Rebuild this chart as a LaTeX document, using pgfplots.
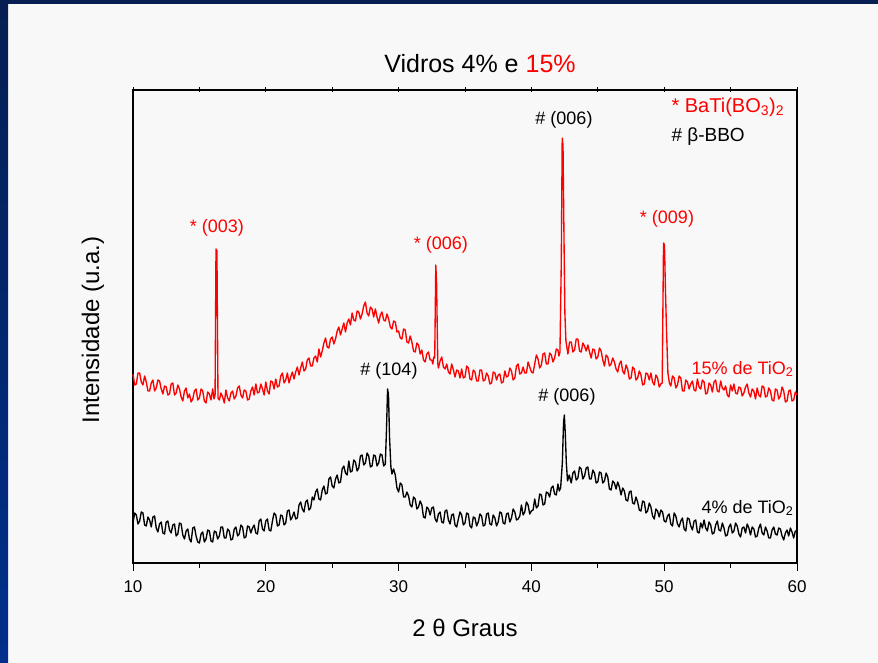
\documentclass[border=0pt]{standalone}
\usepackage{pgfplots}
\pgfplotsset{compat=1.18}
\usepackage{fontspec}
\setmainfont{Liberation Sans}
\definecolor{bg}{HTML}{F8F8F8}
\definecolor{navyTop}{HTML}{061E52}
\definecolor{navyBot}{HTML}{00308C}
\definecolor{xred}{HTML}{FF0000}
\begin{document}
\begin{tikzpicture}[x=1pt,y=1pt]
\fill[bg] (0,0) rectangle (878,663);
\path[use as bounding box] (0,0) rectangle (878,663);
\shade[top color=navyTop, bottom color=navyBot] (0,0) rectangle (8,663);
\fill[navyTop] (0,659) rectangle (878,663);
\pgfplotsset{base/.style={
  at={(133pt,100pt)}, anchor=south west,
  scale only axis, width=664pt, height=473pt,
  xmin=10, xmax=60, ymin=0, ymax=473,
  axis line style={line width=1.3pt},
  every tick/.style={black, line width=1pt},
  clip=false}}
% overlay axis: top ticks and y ticks
\begin{axis}[base,
  xtick={10,15,...,60}, xticklabels={}, xtick pos=top,
  ytick=\empty, minor ytick={12,24,...,468}, ytick pos=both,
  tick align=center, major tick length=5pt, minor tick length=5pt]
\end{axis}
\begin{axis}[base,
  xtick={10,20,...,60}, minor xtick={15,25,...,55},
  xtick pos=bottom, ytick=\empty,
  tick align=outside,
  major tick length=8pt, minor tick length=5pt,
  /pgf/number format/assume math mode=true,
  ticklabel style={font=\fontsize{17}{19}\selectfont},
  xticklabel style={yshift=-6pt},
]
\addplot[xred, line width=1.35pt, line join=round] coordinates {
(10.00,189)(10.125,178)(10.25,179)(10.375,190)(10.50,190)(10.625,181)(10.75,178)(10.875,187)
(11.00,181)(11.125,172)(11.25,172)(11.375,180)(11.50,183)(11.625,172)(11.75,175)(11.875,183)
(12.00,182)(12.125,174)(12.25,169)(12.375,177)(12.50,176)(12.625,168)(12.75,169)(12.875,179)
(13.00,180)(13.125,168)(13.25,170)(13.375,178)(13.50,174)(13.625,166)(13.75,162)(13.875,172)
(14.00,175)(14.125,165)(14.25,169)(14.375,161)(14.50,164)(14.625,172)(14.75,174)(14.875,163)
(15.00,165)(15.125,174)(15.25,172)(15.375,162)(15.50,160)(15.625,171)(15.75,169)(15.875,163)
(16.00,174)(16.10,164)(16.18,168)(16.25,314)(16.32,312)(16.40,165)(16.50,163)(16.625,170)
(16.75,166)(16.875,160)(17.00,173)(17.125,165)(17.25,162)(17.375,170)(17.50,172)(17.625,164)
(17.75,167)(17.875,175)(18.00,177)(18.125,168)(18.25,165)(18.375,173)(18.50,172)(18.625,163)
(18.75,164)(18.875,172)(19.00,176)(19.125,168)(19.25,179)(19.375,170)(19.50,171)(19.625,179)
(19.75,174)(19.875,168)(20.00,181)(20.125,172)(20.25,169)(20.375,182)(20.50,181)(20.625,174)
(20.75,184)(20.875,176)(21.00,177)(21.125,187)(21.25,190)(21.375,180)(21.50,183)(21.625,190)
(21.75,180)(21.875,186)(22.00,191)(22.125,184)(22.25,191)(22.375,196)(22.50,188)(22.625,195)
(22.75,201)(22.875,192)(23.00,194)(23.125,203)(23.25,205)(23.375,197)(23.50,197)(23.625,205)
(23.75,207)(23.875,201)(24.00,214)(24.125,206)(24.25,212)(24.375,220)(24.50,225)(24.625,216)
(24.75,215)(24.875,224)(25.00,226)(25.125,219)(25.25,224)(25.375,232)(25.50,236)(25.625,228)
(25.75,234)(25.875,240)(26.00,231)(26.125,240)(26.25,244)(26.375,238)(26.50,250)(26.625,243)
(26.75,242)(26.875,252)(27.00,251)(27.125,244)(27.25,249)(27.375,257)(27.50,261)(27.625,250)
(27.75,247)(27.875,256)(28.00,254)(28.125,246)(28.25,254)(28.375,246)(28.50,240)(28.625,248)
(28.75,251)(28.875,243)(29.00,242)(29.125,249)(29.25,244)(29.375,236)(29.50,234)(29.625,242)
(29.75,241)(29.875,231)(30.00,232)(30.125,225)(30.25,224)(30.375,234)(30.50,233)(30.625,221)
(30.75,220)(30.875,227)(31.00,221)(31.125,212)(31.25,211)(31.375,220)(31.50,218)(31.625,209)
(31.75,213)(31.875,203)(32.00,201)(32.125,209)(32.25,211)(32.375,203)(32.50,203)(32.575,199)
(32.65,206)(32.72,205)(32.80,298)(32.86,280)(32.95,200)(33.00,195)(33.125,202)(33.25,206)
(33.375,196)(33.50,194)(33.625,199)(33.75,191)(33.875,189)(34.00,199)(34.125,193)(34.25,186)
(34.375,193)(34.50,192)(34.625,185)(34.75,194)(34.875,185)(35.00,186)(35.125,197)(35.25,195)
(35.375,184)(35.50,183)(35.625,193)(35.75,191)(35.875,182)(36.00,182)(36.125,193)(36.25,193)
(36.375,182)(36.50,183)(36.625,190)(36.75,187)(36.875,179)(37.00,180)(37.125,191)(37.25,190)
(37.375,183)(37.50,188)(37.625,189)(37.75,180)(37.875,181)(38.00,192)(38.125,186)(38.25,187)
(38.375,195)(38.50,192)(38.625,183)(38.75,185)(38.875,197)(39.00,199)(39.125,189)(39.25,190)
(39.375,196)(39.50,190)(39.625,190)(39.75,201)(39.875,196)(40.00,191)(40.125,190)(40.25,199)
(40.375,208)(40.50,204)(40.625,195)(40.75,198)(40.875,209)(41.00,210)(41.125,199)(41.25,199)
(41.375,210)(41.50,208)(41.625,201)(41.75,205)(41.875,214)(42.00,213)(42.075,207)(42.15,211)
(42.25,300)(42.32,425)(42.38,418)(42.45,330)(42.52,250)(42.60,222)(42.75,209)(42.875,221)
(43.00,221)(43.125,211)(43.25,213)(43.375,224)(43.50,224)(43.625,212)(43.75,211)(43.875,220)
(44.00,217)(44.125,212)(44.25,218)(44.375,211)(44.50,205)(44.625,214)(44.75,213)(44.875,204)
(45.00,206)(45.125,215)(45.25,212)(45.375,203)(45.50,197)(45.625,208)(45.75,206)(45.875,197)
(46.00,199)(46.125,205)(46.25,201)(46.375,194)(46.50,191)(46.625,199)(46.75,202)(46.875,192)
(47.00,189)(47.125,198)(47.25,194)(47.375,184)(47.50,185)(47.625,196)(47.75,194)(47.875,183)
(48.00,185)(48.125,192)(48.25,188)(48.375,178)(48.50,179)(48.625,190)(48.75,189)(48.875,183)
(49.00,190)(49.125,181)(49.25,178)(49.375,188)(49.50,185)(49.625,176)(49.75,179)(49.85,180)
(49.95,320)(50.02,318)(50.10,270)(50.18,230)(50.28,190)(50.39,180)(50.50,177)(50.625,187)
(50.75,185)(50.875,175)(51.00,178)(51.125,187)(51.25,185)(51.375,172)(51.50,172)(51.625,183)
(51.75,181)(51.875,174)(52.00,179)(52.125,182)(52.25,173)(52.375,172)(52.50,184)(52.625,176)
(52.75,174)(52.875,183)(53.00,181)(53.125,169)(53.25,170)(53.375,180)(53.50,178)(53.625,171)
(53.75,181)(53.875,183)(54.00,172)(54.125,171)(54.25,182)(54.375,175)(54.50,173)(54.625,177)
(54.75,168)(54.875,166)(55.00,178)(55.125,172)(55.25,179)(55.375,170)(55.50,169)(55.625,176)
(55.75,175)(55.875,167)(56.00,170)(56.125,176)(56.25,179)(56.375,170)(56.50,166)(56.625,174)
(56.75,172)(56.875,164)(57.00,175)(57.125,168)(57.25,166)(57.375,177)(57.50,176)(57.625,166)
(57.75,167)(57.875,175)(58.00,172)(58.125,163)(58.25,162)(58.375,174)(58.50,173)(58.625,164)
(58.75,167)(58.875,176)(59.00,172)(59.125,161)(59.25,162)(59.375,172)(59.50,173)(59.625,162)
(59.75,163)(59.875,171)(60.00,168)
};
\addplot[black, line width=1.35pt, line join=round] coordinates {
(10.00,40)(10.125,50)(10.25,48)(10.375,39)(10.50,42)(10.625,51)(10.75,50)(10.875,38)
(11.00,37)(11.125,46)(11.25,43)(11.375,36)(11.50,46)(11.625,47)(11.75,35)(11.875,31)
(12.00,39)(12.125,41)(12.25,30)(12.375,29)(12.50,41)(12.625,42)(12.75,33)(12.875,30)
(13.00,38)(13.125,39)(13.25,27)(13.375,29)(13.50,40)(13.625,39)(13.75,28)(13.875,24)
(14.00,32)(14.125,34)(14.25,24)(14.375,21)(14.50,35)(14.625,36)(14.75,27)(14.875,21)
(15.00,20)(15.125,29)(15.25,31)(15.375,21)(15.50,24)(15.625,33)(15.75,32)(15.875,22)
(16.00,21)(16.125,32)(16.25,31)(16.375,24)(16.50,27)(16.625,36)(16.75,36)(16.875,25)
(17.00,25)(17.125,34)(17.25,32)(17.375,23)(17.50,24)(17.625,34)(17.75,36)(17.875,27)
(18.00,29)(18.125,38)(18.25,36)(18.375,25)(18.50,26)(18.625,37)(18.75,36)(18.875,30)
(19.00,35)(19.125,38)(19.25,30)(19.375,29)(19.50,42)(19.625,44)(19.75,34)(19.875,32)
(20.00,42)(20.125,44)(20.25,33)(20.375,32)(20.50,42)(20.625,50)(20.75,48)(20.875,37)
(21.00,38)(21.125,48)(21.25,47)(21.375,38)(21.50,40)(21.625,52)(21.75,53)(21.875,43)
(22.00,46)(22.125,51)(22.25,44)(22.375,45)(22.50,58)(22.625,61)(22.75,54)(22.875,51)
(23.00,61)(23.125,63)(23.25,53)(23.375,55)(23.50,66)(23.625,63)(23.75,71)(23.875,74)
(24.00,64)(24.125,63)(24.25,73)(24.375,77)(24.50,69)(24.625,70)(24.75,84)(24.875,86)
(25.00,77)(25.125,75)(25.25,84)(25.375,88)(25.50,80)(25.625,81)(25.75,94)(25.875,97)
(26.00,90)(26.125,88)(26.25,102)(26.375,91)(26.50,92)(26.625,103)(26.75,101)(26.875,92)
(27.00,95)(27.125,107)(27.25,108)(27.375,98)(27.50,100)(27.625,110)(27.75,107)(27.875,96)
(28.00,97)(28.125,108)(28.25,107)(28.375,97)(28.50,100)(28.625,109)(28.75,108)(28.875,97)
(29.00,99)(29.08,130)(29.17,174)(29.24,168)(29.32,125)(29.42,96)(29.50,89)(29.625,94)
(29.75,88)(29.875,75)(30.00,71)(30.125,80)(30.25,78)(30.375,66)(30.50,66)(30.625,71)
(30.75,67)(30.875,58)(31.00,56)(31.125,66)(31.25,64)(31.375,54)(31.50,56)(31.625,62)
(31.75,58)(31.875,46)(32.00,45)(32.125,56)(32.25,54)(32.375,48)(32.50,55)(32.625,56)
(32.75,44)(32.875,41)(33.00,49)(33.125,51)(33.25,41)(33.375,40)(33.50,52)(33.625,53)
(33.75,43)(33.875,39)(34.00,48)(34.125,49)(34.25,38)(34.375,36)(34.50,44)(34.625,51)
(34.75,48)(34.875,38)(35.00,40)(35.125,50)(35.25,49)(35.375,37)(35.50,35)(35.625,46)
(35.75,45)(35.875,37)(36.00,41)(36.125,49)(36.25,47)(36.375,37)(36.50,38)(36.625,49)
(36.75,50)(36.875,39)(37.00,38)(37.125,48)(37.25,45)(37.375,37)(37.50,41)(37.625,51)
(37.75,50)(37.875,40)(38.00,39)(38.125,49)(38.25,50)(38.375,41)(38.50,45)(38.625,54)
(38.75,51)(38.875,43)(39.00,44)(39.125,47)(39.25,58)(39.375,48)(39.50,51)(39.625,61)
(39.75,58)(39.875,49)(40.00,52)(40.125,53)(40.25,64)(40.375,55)(40.50,57)(40.625,69)
(40.75,68)(40.875,58)(41.00,59)(41.125,71)(41.25,70)(41.375,66)(41.50,75)(41.625,77)
(41.75,69)(41.875,68)(42.00,79)(42.10,72)(42.20,75)(42.33,100)(42.42,140)(42.48,148)
(42.55,130)(42.63,100)(42.72,82)(42.85,88)(43.00,80)(43.125,90)(43.25,92)(43.375,83)
(43.50,85)(43.625,96)(43.75,94)(43.875,84)(44.00,87)(44.125,95)(44.25,96)(44.375,84)
(44.50,84)(44.625,93)(44.75,90)(44.875,80)(45.00,81)(45.125,91)(45.25,90)(45.375,80)
(45.50,82)(45.625,90)(45.75,86)(45.875,74)(46.00,73)(46.125,82)(46.25,80)(46.375,74)
(46.50,81)(46.625,76)(46.75,68)(46.875,75)(47.00,72)(47.125,63)(47.25,62)(47.375,71)
(47.50,72)(47.625,60)(47.75,59)(47.875,66)(48.00,61)(48.125,53)(48.25,52)(48.375,62)
(48.50,61)(48.625,50)(48.75,52)(48.875,60)(49.00,56)(49.125,47)(49.25,44)(49.375,54)
(49.50,52)(49.625,46)(49.75,53)(49.875,51)(50.00,42)(50.125,41)(50.25,47)(50.375,49)
(50.50,39)(50.625,37)(50.75,50)(50.875,47)(51.00,39)(51.125,36)(51.25,42)(51.375,45)
(51.50,34)(51.625,32)(51.75,45)(51.875,44)(52.00,37)(52.125,33)(52.25,42)(52.375,43)
(52.50,31)(52.625,30)(52.75,40)(52.875,35)(53.00,43)(53.125,35)(53.25,32)(53.375,41)
(53.50,38)(53.625,29)(53.75,30)(53.875,38)(54.00,42)(54.125,33)(54.25,32)(54.375,40)
(54.50,35)(54.625,27)(54.75,28)(54.875,36)(55.00,39)(55.125,30)(55.25,32)(55.375,40)
(55.50,37)(55.625,29)(55.75,26)(55.875,35)(56.00,36)(56.125,30)(56.25,39)(56.375,35)
(56.50,28)(56.625,36)(56.75,34)(56.875,26)(57.00,27)(57.125,35)(57.25,39)(57.375,30)
(57.50,28)(57.625,36)(57.75,32)(57.875,25)(58.00,25)(58.125,33)(58.25,36)(58.375,29)
(58.50,28)(58.625,35)(58.75,34)(58.875,27)(59.00,23)(59.125,30)(59.25,33)(59.375,27)
(59.50,35)(59.625,31)(59.75,25)(59.875,32)(60.00,31)
};
\end{axis}
% titles and labels
\node[font=\fontsize{25}{28}\selectfont] at (480,599) {Vidros 4\% e \textcolor{xred}{15\%}};
\node[font=\fontsize{24}{28}\selectfont] at (465,35) {2 θ Graus};
\node[font=\fontsize{24}{28}\selectfont, rotate=90] at (93,333) {Intensidade (u.a.)};
% peak annotations
\begin{scope}[every node/.style={font=\fontsize{18}{20}\selectfont}]
\node[text=xred] at (217,435) {* (003)};
\node[text=xred] at (441,418) {* (006)};
\node[text=black] at (564,543) {\# (006)};
\node[text=xred] at (667,444) {* (009)};
\node[text=black] at (389,292) {\# (104)};
\node[text=black] at (567,266) {\# (006)};
\node[text=xred, anchor=east] at (797,294) {15\% de TiO\textsubscript{2}};
\node[text=black, anchor=east] at (797,155) {4\% de TiO\textsubscript{2}};
\end{scope}
\node[text=xred, anchor=west, font=\fontsize{20}{22}\selectfont] at (668,556) {* BaTi(BO\textsubscript{3})\textsubscript{2}};
\node[text=black, anchor=west, font=\fontsize{19}{22}\selectfont] at (668,526) {\# β-BBO};
\end{tikzpicture}
\end{document}
